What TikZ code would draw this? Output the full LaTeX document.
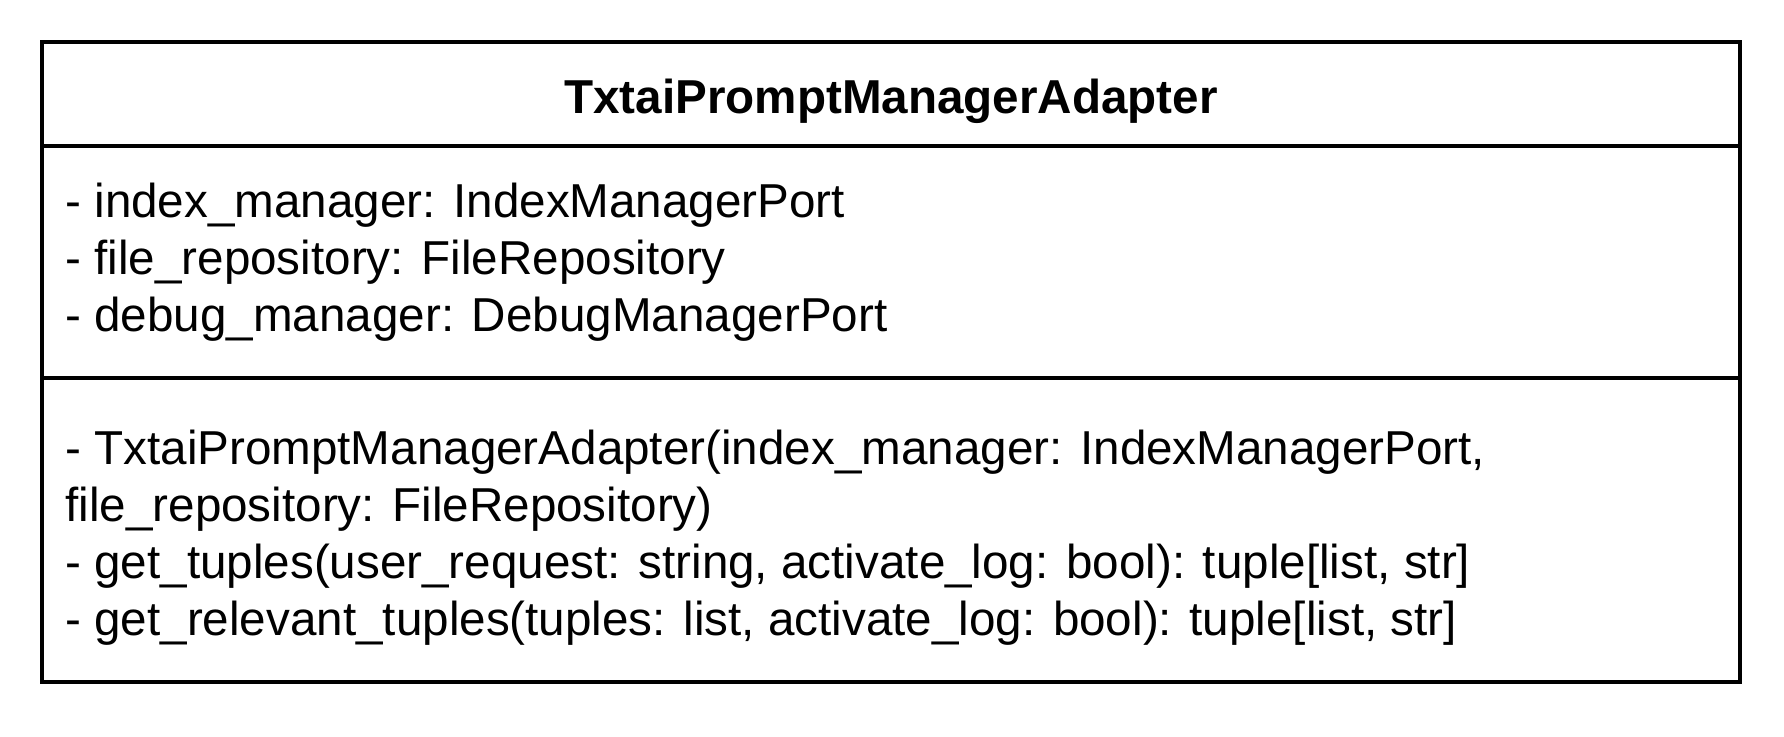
\documentclass[tikz,border=0pt]{standalone}
\usepackage{fontspec}
\setmainfont{Liberation Sans}
\usetikzlibrary{positioning}
\definecolor{BoxClr}{rgb}{0,0,0}

\tikzset{
  boxline/.style={line width=2pt,color=BoxClr},
  rowtext/.style={anchor=base west,inner sep=0pt,font=\fontsize{23.8}{28.5}\selectfont},
  headtext/.style={anchor=base,inner sep=0pt,font=\fontsize{23.8}{28.5}\selectfont\bfseries}
}

\begin{document}
\begin{tikzpicture}[x=0.5pt,y=-0.5pt]
\useasboundingbox (0,0) rectangle (1784,736);

\coordinate (NW) at (42,42);
\coordinate (SE) at (1740,682);
\coordinate (AW) at (42,146);
\coordinate (AE) at (1740,146);
\coordinate (MW) at (42,378);
\coordinate (ME) at (1740,378);

\draw[boxline] (NW) rectangle (SE);
\draw[boxline] (AW) -- (AE);
\draw[boxline] (MW) -- (ME);

\node[headtext] (title) at (891,113) {TxtaiPromptManagerAdapter};

\node[rowtext] (attrA) at (65,217) {- index\_manager: IndexManagerPort};
\node[rowtext] (attrB) at (65,274) {- file\_repository: FileRepository};
\node[rowtext] (attrC) at (65,331) {- debug\_manager: DebugManagerPort};

\node[rowtext] (opA) at (65,464) {- TxtaiPromptManagerAdapter(index\_manager: IndexManagerPort,};
\node[rowtext] (opB) at (65,521) {file\_repository: FileRepository)};
\node[rowtext] (opC) at (65,578) {- get\_tuples(user\_request: string, activate\_log: bool): tuple[list, str]};
\node[rowtext] (opD) at (65,635) {- get\_relevant\_tuples(tuples: list, activate\_log: bool): tuple[list, str]};

\end{tikzpicture}
\end{document}
